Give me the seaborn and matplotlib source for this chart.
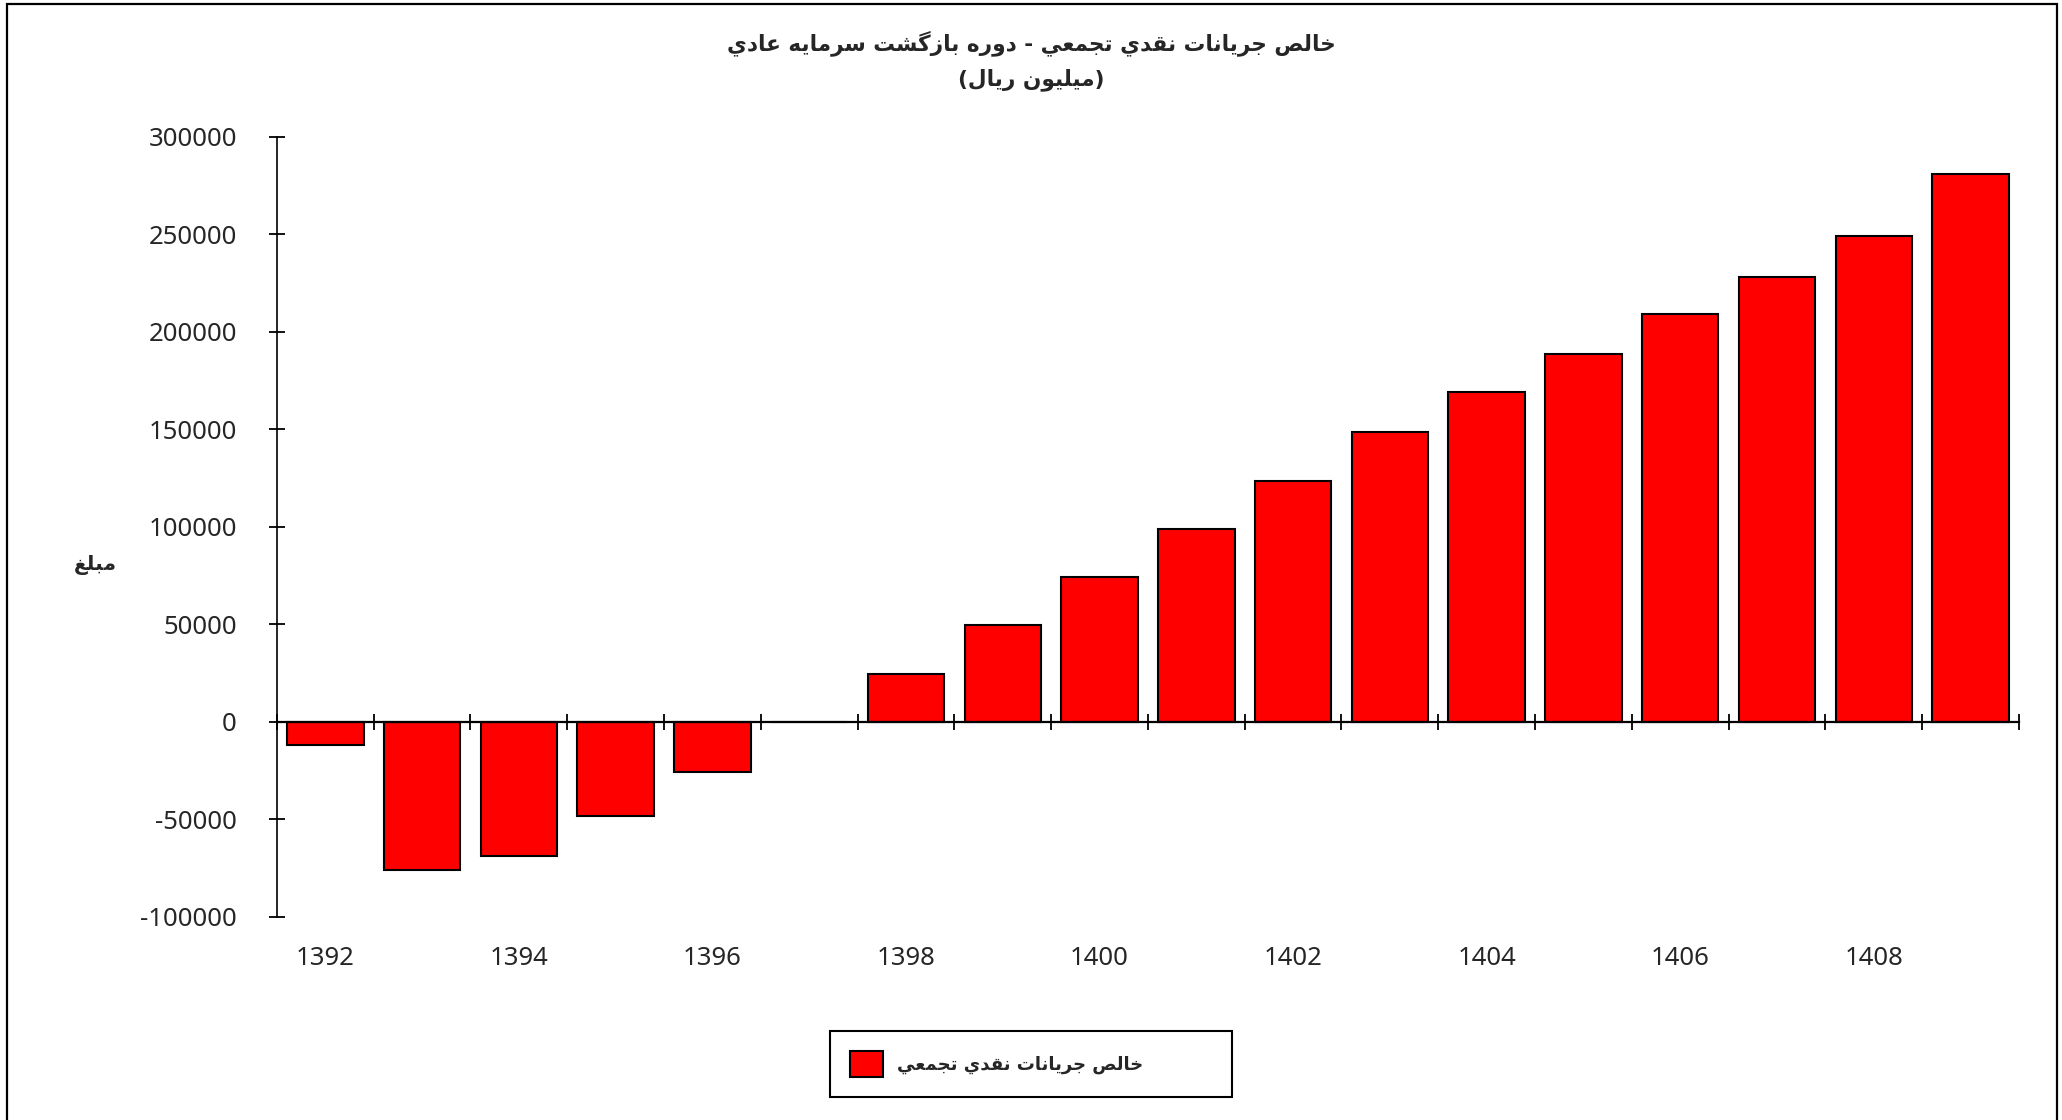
import pandas as pd
import matplotlib.pyplot as plt
import seaborn as sns
from matplotlib.patches import Rectangle

# Datos del gráfico
years = ["1392", "1393", "1394", "1395", "1396", "1397", "1398", "1399", "1400",
         "1401", "1402", "1403", "1404", "1405", "1406", "1407", "1408", "1409"]
values = [-12000, -76000, -69000, -48000, -25500, 0, 24500, 49500, 74500,
          99000, 123500, 148500, 169000, 188500, 209000, 228000, 249000, 281000]
label_years = ["1392", "1394", "1396", "1398", "1400", "1402", "1404", "1406", "1408"]
y_ticks = [-100000, -50000, 0, 50000, 100000, 150000, 200000, 250000, 300000]

title_1 = "خالص جريانات نقدي تجمعي - دوره بازگشت سرمايه عادي"
title_2 = "(ميليون ريال)"
y_label = "مبلغ"
series_name = "خالص جريانات نقدي تجمعي"

# Formas contextuales árabes: aislada, final, inicial, medial
FORMS = {
    "ا": ("\uFE8D", "\uFE8E", None, None),
    "ب": ("\uFE8F", "\uFE90", "\uFE91", "\uFE92"),
    "ت": ("\uFE95", "\uFE96", "\uFE97", "\uFE98"),
    "ج": ("\uFE9D", "\uFE9E", "\uFE9F", "\uFEA0"),
    "خ": ("\uFEA5", "\uFEA6", "\uFEA7", "\uFEA8"),
    "د": ("\uFEA9", "\uFEAA", None, None),
    "ر": ("\uFEAD", "\uFEAE", None, None),
    "ز": ("\uFEAF", "\uFEB0", None, None),
    "س": ("\uFEB1", "\uFEB2", "\uFEB3", "\uFEB4"),
    "ش": ("\uFEB5", "\uFEB6", "\uFEB7", "\uFEB8"),
    "ص": ("\uFEB9", "\uFEBA", "\uFEBB", "\uFEBC"),
    "ع": ("\uFEC9", "\uFECA", "\uFECB", "\uFECC"),
    "غ": ("\uFECD", "\uFECE", "\uFECF", "\uFED0"),
    "ق": ("\uFED5", "\uFED6", "\uFED7", "\uFED8"),
    "ل": ("\uFEDD", "\uFEDE", "\uFEDF", "\uFEE0"),
    "م": ("\uFEE1", "\uFEE2", "\uFEE3", "\uFEE4"),
    "ن": ("\uFEE5", "\uFEE6", "\uFEE7", "\uFEE8"),
    "ه": ("\uFEE9", "\uFEEA", "\uFEEB", "\uFEEC"),
    "و": ("\uFEED", "\uFEEE", None, None),
    "ي": ("\uFEF1", "\uFEF2", "\uFEF3", "\uFEF4"),
    "گ": ("\uFB92", "\uFB93", "\uFB94", "\uFB95"),
}


def shape(text):
    out = []
    for i, c in enumerate(text):
        if c not in FORMS:
            out.append(c)
            continue
        f = FORMS[c]
        prev = text[i - 1] if i > 0 else None
        nxt = text[i + 1] if i + 1 < len(text) else None
        join_prev = prev in FORMS and FORMS[prev][2] is not None
        join_next = nxt in FORMS and f[2] is not None
        if join_prev and join_next:
            out.append(f[3])
        elif join_prev:
            out.append(f[1])
        elif join_next:
            out.append(f[2])
        else:
            out.append(f[0])
    s = "".join(out)[::-1]
    return s.translate(str.maketrans("()", ")("))


df = pd.DataFrame({"year": years, "value": values})

sns.set_style("white")
plt.rcParams["font.family"] = ["Noto Sans", "DejaVu Sans"]
plt.rcParams["axes.unicode_minus"] = False

fig = plt.figure(figsize=(20.62, 11.2), dpi=100)
ax = fig.add_axes([0.1343, 0.1813, 0.8448, 0.6964])

sns.barplot(data=df, x="year", y="value", color="#FF0000", saturation=1,
            edgecolor="black", linewidth=1.5, width=0.79, ax=ax,
            label=shape(series_name) + " " * 11)

ax.set_xlim(-0.5, 17.5)
ax.set_ylim(-100000, 300000)
ax.set_yticks(y_ticks)
ax.set_yticklabels([str(v) for v in y_ticks])
ax.set_xticks([years.index(y) for y in label_years])
ax.set_xticklabels(label_years)
ax.set_xticks([i - 0.5 for i in range(len(years) + 1)], minor=True)
ax.set_xlabel("")
ax.set_ylabel("")

for side in ["top", "right"]:
    ax.spines[side].set_visible(False)
ax.spines["bottom"].set_position(("data", 0))
ax.spines["bottom"].set_linewidth(1.6)
ax.spines["left"].set_linewidth(1.2)
ax.spines["bottom"].set_color("black")
ax.spines["left"].set_color("black")

ax.tick_params(axis="x", which="major", bottom=True, length=0, pad=161,
               labelsize=18.5)
ax.tick_params(axis="x", which="minor", bottom=True, direction="inout",
               length=11, width=1.3, color="black")
ax.tick_params(axis="y", left=True, direction="inout", length=11.5, width=1.3,
               pad=23, labelsize=18.5, color="black")

arabic = ["DejaVu Sans"]
fig.text(0.5, 1 - 43 / 1120, shape(title_1), ha="center", va="center",
         fontsize=15.6, fontweight="bold", family=arabic)
fig.text(0.5, 1 - 80 / 1120, shape(title_2), ha="center", va="center",
         fontsize=15.6, fontweight="bold", family=arabic)
fig.text(95 / 2062, 1 - 565 / 1120, shape(y_label), ha="center", va="center",
         fontsize=14.5, fontweight="bold", family=arabic)

handles, labels = ax.get_legend_handles_labels()
if ax.get_legend() is not None:
    ax.get_legend().remove()
leg = fig.legend(handles, labels, loc="center", bbox_to_anchor=(0.5, 1 - 1064 / 1120),
                 prop={"family": arabic, "weight": "bold", "size": 13},
                 handlelength=1.8, handleheight=1.8, handletextpad=0.8,
                 borderpad=1.1, fancybox=False, framealpha=1, edgecolor="black")
leg.get_frame().set_linewidth(1.5)

fig.add_artist(Rectangle((7 / 2062, -0.05), 2050 / 2062, 1.05 - 4 / 1120,
                         fill=False, edgecolor="black", linewidth=1.6,
                         transform=fig.transFigure))

plt.savefig("out.png", dpi=100)
plt.close()
